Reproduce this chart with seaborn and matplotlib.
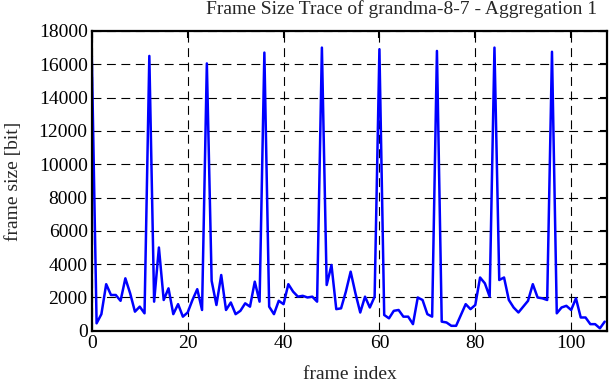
import matplotlib
matplotlib.use("Agg")
import matplotlib.pyplot as plt
import seaborn as sns
import numpy as np

# frame sizes [bit], one value per frame
frame_size = [
    16500, 450, 1000, 2800, 2150, 2150, 1800, 3150, 2250, 1150,
    1450, 1050, 16500, 1750, 5000, 1850, 2550, 1000, 1600, 850,
    1100, 1850, 2500, 1250, 16050, 3000, 1550, 3350, 1250, 1700,
    1000, 1200, 1650, 1450, 2950, 1750, 16700, 1450, 1000, 1800,
    1600, 2800, 2350, 2050, 2100, 2000, 2050, 1750, 17000, 2750,
    3950, 1300, 1350, 2350, 3550, 2250, 1100, 2050, 1400, 2050,
    16900, 950, 750, 1200, 1250, 850, 850, 400, 2000, 1850,
    1000, 850, 16800, 550, 500, 300, 300, 950, 1600, 1300,
    1550, 3200, 2850, 2050, 17000, 3050, 3200, 1850, 1400, 1100,
    1450, 1800, 2800, 2000, 1950, 1850, 16750, 1050, 1400, 1500,
    1250, 1950, 800, 800, 400, 400, 150, 550,
]
frame_index = list(range(len(frame_size)))

x_ticks = [0, 20, 40, 60, 80, 100]
y_ticks = list(range(0, 18001, 2000))

sns.set_theme(style="white")
plt.rcParams['font.family'] = ['Liberation Serif', 'DejaVu Serif']
plt.rcParams['font.size'] = 14

fig = plt.figure(figsize=(6.12, 3.82), dpi=100)
ax = fig.add_axes([0.150, 0.134, 0.842, 0.785])

sns.lineplot(x=frame_index, y=frame_size, color='#0000ff', linewidth=1.8, ax=ax)

ax.set_xlim(0, 107.5)
ax.set_ylim(0, 18000)
ax.set_xticks(x_ticks)
ax.set_yticks(y_ticks)

# gnuplot-like dashed grid
ax.grid(True, color='black', linewidth=0.8, linestyle=(0, (8, 5)))
ax.set_axisbelow(True)

for sp in ax.spines.values():
    sp.set_color('black')
    sp.set_linewidth(1.6)

ax.tick_params(direction='in', length=5, width=1.5, color='black',
               top=True, right=True, labelsize=14, labelcolor='black', pad=3)

# title sits right of the plot centre, like the original
fig.text(0.656, 0.975, 'Frame Size Trace of grandma-8-7 - Aggregation 1',
         ha='center', va='center', fontsize=14)
ax.set_xlabel('frame index', fontsize=14, labelpad=10)
ax.set_ylabel('frame size [bit]', fontsize=14, labelpad=12)

fig.savefig('out.png', dpi=100, facecolor='white')
